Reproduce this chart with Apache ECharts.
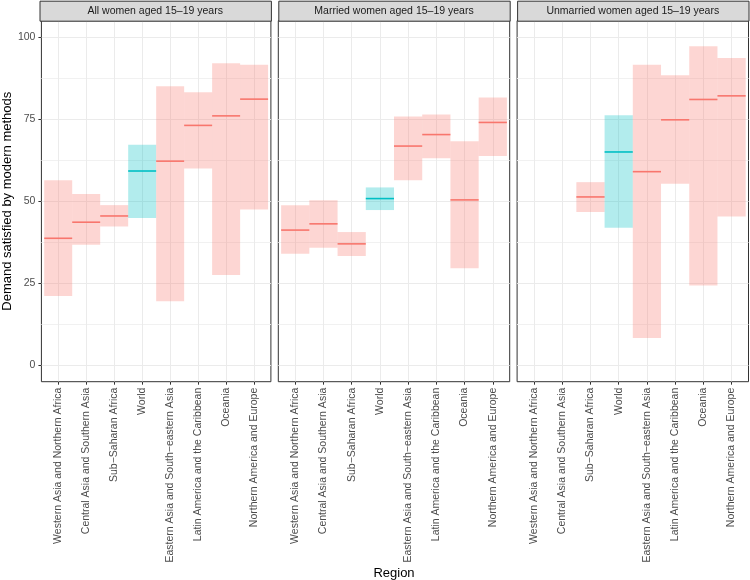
<!DOCTYPE html>
<html>
<head>
<meta charset="utf-8">
<script src="https://cdn.jsdelivr.net/npm/echarts@6/dist/echarts.min.js"></script>
<style>html,body{margin:0;padding:0;background:#fff}#c{width:750px;height:580px}</style>
</head>
<body>
<div id="c"></div>
<script>
const regions = ['Western Asia and Northern Africa','Central Asia and Southern Asia','Sub\u2212Saharan Africa','World','Eastern Asia and South\u2212eastern Asia','Latin America and the Caribbean','Oceania','Northern America and Europe'];
const panelTitles = ['All women aged 15\u201319 years','Married women aged 15\u201319 years','Unmarried women aged 15\u201319 years'];
const yTicks = [0, 25, 50, 75, 100];
const yMinor = [12.5, 37.5, 62.5, 87.5];

const allLow  = [21.1, 36.7, 42.3, 44.9, 19.5, 60.0, 27.5, 47.5];
const allMid  = [38.7, 43.6, 45.5, 59.2, 62.2, 73.1, 76.0, 81.1];
const allHigh = [56.4, 52.2, 48.8, 67.2, 85.0, 83.2, 92.0, 91.6];

const marLow  = [34.0, 35.8, 33.3, 47.3, 56.4, 63.1, 29.6, 63.8];
const marMid  = [41.2, 43.1, 37.0, 50.8, 66.8, 70.3, 50.4, 74.0];
const marHigh = [48.8, 50.3, 40.6, 54.2, 75.8, 76.4, 68.3, 81.6];

const unmLow  = [null, null, 46.7, 41.9, 8.3, 55.3, 24.3, 45.3];
const unmMid  = [null, null, 51.3, 65.0, 59.0, 74.8, 81.0, 82.1];
const unmHigh = [null, null, 55.8, 76.2, 91.6, 88.4, 97.2, 93.6];

const panels = [[allLow, allMid, allHigh], [marLow, marMid, marHigh], [unmLow, unmMid, unmHigh]];

const FONT = '"Liberation Sans", Arial, Helvetica, sans-serif';
const lefts = [39.5, 278.3, 517.1];
const W = 231.4, TOP = 20.7, H = 361;

const chart = echarts.init(document.getElementById('c'), null, {renderer: 'canvas'});

const grids = [], xAxes = [], yAxes = [], series = [], graphics = [];
const catVals = regions.map((r, i) => i + 1);

lefts.forEach((l, p) => {
  grids.push({left: l, top: TOP, width: W, height: H, show: true, borderColor: '#333333', borderWidth: 1, backgroundColor: '#fff', containLabel: false});
  xAxes.push({
    type: 'value', gridIndex: p, min: 0.4, max: 8.6, position: 'bottom',
    axisLine: {show: false, onZero: false},
    axisTick: {show: true, length: 3, customValues: catVals, lineStyle: {color: '#333333', width: 1}},
    axisLabel: {show: true, customValues: catVals, rotate: 90, margin: 6, fontSize: 10.5, color: '#4D4D4D', fontFamily: FONT,
      formatter: v => regions[Math.round(v) - 1] || ''},
    splitLine: {show: true, lineStyle: {color: '#EBEBEB', width: 1}}
  });
});
lefts.forEach((l, p) => {
  yAxes.push({
    type: 'value', gridIndex: p, min: -5, max: 105, position: 'left',
    axisLine: {show: false, onZero: false},
    axisTick: {show: p === 0, length: 3, customValues: yTicks, lineStyle: {color: '#333333', width: 1}},
    axisLabel: {show: p === 0, customValues: yTicks, margin: 6, fontSize: 10.5, color: '#4D4D4D', fontFamily: FONT},
    splitLine: {show: true, lineStyle: {color: '#EBEBEB', width: 1}},
    name: p === 0 ? 'Demand satisfied by modern methods' : '',
    nameLocation: 'middle', nameRotate: 90, nameGap: 24,
    nameTextStyle: {fontSize: 13, color: '#000', fontFamily: FONT}
  });
});
lefts.forEach((l, p) => {
  yAxes.push({
    type: 'value', gridIndex: p, min: -5, max: 105, position: 'left',
    axisLine: {show: false, onZero: false},
    axisTick: {show: false, customValues: yMinor},
    axisLabel: {show: false, customValues: yMinor},
    splitLine: {show: true, lineStyle: {color: '#F1F1F1', width: 1}}
  });
});

panels.forEach((arr, p) => {
  const [lo, md, hi] = arr;
  const data = regions.map((r, i) => [i + 1, lo[i] == null ? NaN : lo[i], md[i] == null ? NaN : md[i], hi[i] == null ? NaN : hi[i], r === 'World' ? 1 : 0]);
  series.push({
    type: 'custom', xAxisIndex: p, yAxisIndex: p, data: data, clip: false,
    encode: {x: 0, y: [1, 2, 3]},
    renderItem: function (params, api) {
      const x = api.value(0), l = api.value(1), m = api.value(2), h = api.value(3), w0 = api.value(4);
      if (isNaN(l)) return null;
      const w = api.size([1, 0])[0];
      const ph = api.coord([x, h]), pl = api.coord([x, l]), pm = api.coord([x, m]);
      const fill = w0 ? 'rgba(0,191,196,0.3)' : 'rgba(248,118,109,0.3)';
      const stroke = w0 ? '#00BFC4' : '#F8766D';
      return {type: 'group', children: [
        {type: 'rect', shape: {x: ph[0] - w / 2, y: ph[1], width: w, height: pl[1] - ph[1]}, style: {fill: fill}},
        {type: 'line', shape: {x1: pm[0] - w / 2, y1: pm[1], x2: pm[0] + w / 2, y2: pm[1]}, style: {stroke: stroke, lineWidth: 1.6}}
      ]};
    }
  });
  graphics.push({type: 'rect', left: lefts[p], top: 0.7, shape: {width: W, height: TOP - 0.7}, style: {fill: '#D9D9D9', stroke: '#333333', lineWidth: 1}, z: 10});
  graphics.push({type: 'text', x: lefts[p] + W / 2, y: (0.7 + TOP) / 2 + 0.5, style: {text: panelTitles[p], fill: '#1A1A1A', font: '10.5px ' + FONT, textAlign: 'center', textVerticalAlign: 'middle'}, z: 11});
});
graphics.push({type: 'text', x: (lefts[0] + lefts[2] + W) / 2, y: 573, style: {text: 'Region', fill: '#000', font: '13px ' + FONT, textAlign: 'center', textVerticalAlign: 'middle'}, z: 11});

chart.setOption({
  animation: false,
  backgroundColor: '#fff',
  grid: grids, xAxis: xAxes, yAxis: yAxes, series: series, graphic: graphics
});
</script>
</body>
</html>
